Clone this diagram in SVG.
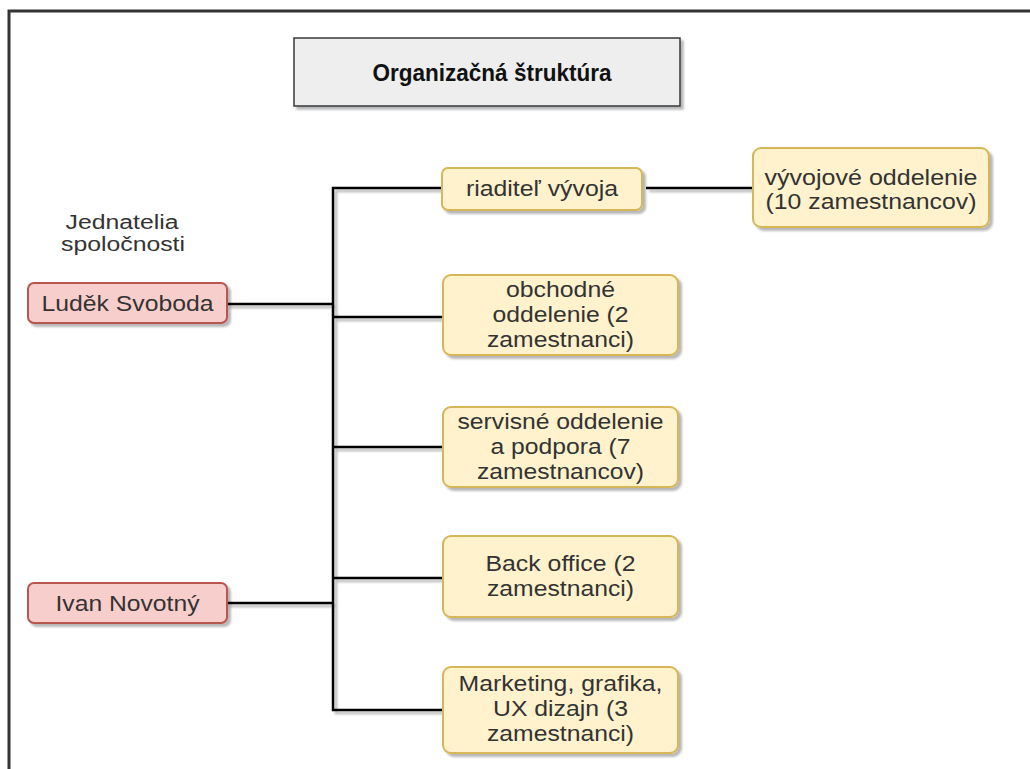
<svg xmlns="http://www.w3.org/2000/svg" width="1030" height="769" viewBox="0 0 1030 769">
<defs>
<filter id="sh" x="-10%" y="-10%" width="130%" height="140%">
<feDropShadow dx="3" dy="3" stdDeviation="1.2" flood-color="#000" flood-opacity="0.28"/>
</filter>
<style>
.frame{fill:none;stroke:#333;stroke-width:3}
.title{fill:#eeeeee;stroke:#36393d;stroke-width:1.5}
.y{fill:#fff2cc;stroke:#d6b656;stroke-width:2}
.r{fill:#f8cecc;stroke:#b85450;stroke-width:2}
.t{font-family:"Liberation Sans",Arial,sans-serif;font-size:22px;fill:#333;text-anchor:middle}
.s{font-size:20px}
.tb{font-family:"Liberation Sans",Arial,sans-serif;font-size:24px;font-weight:bold;fill:#111;text-anchor:middle}
.c{fill:none;stroke:#000;stroke-width:2.5}
</style>
</defs>
<rect width="1030" height="769" fill="#fff"/>
<path class="frame" d="M9,769 V11 H1030"/>
<g id="title">
<rect class="title" x="294" y="38" width="386" height="68" filter="url(#sh)"/>
<text class="tb" x="492" y="81" textLength="239" lengthAdjust="spacingAndGlyphs">Organizačná štruktúra</text>
</g>
<g id="connectors" filter="url(#sh)">
<path class="c" d="M442,188 H333 V710 H443"/>
<path class="c" d="M646,188 H753"/>
<path class="c" d="M227,304 H333"/>
<path class="c" d="M333,317 H443"/>
<path class="c" d="M333,447 H443"/>
<path class="c" d="M333,578 H443"/>
<path class="c" d="M227,603 H333"/>
</g>
<g id="label-jednatelia">
<text class="t s" x="122" y="229" textLength="113" lengthAdjust="spacingAndGlyphs">Jednatelia</text>
<text class="t s" x="123" y="251" textLength="124" lengthAdjust="spacingAndGlyphs">spoločnosti</text>
</g>
<g id="ludek">
<rect class="r" x="28" y="283" width="199" height="40" rx="6" filter="url(#sh)"/>
<text class="t" x="127.5" y="311" textLength="172" lengthAdjust="spacingAndGlyphs">Luděk Svoboda</text>
</g>
<g id="ivan">
<rect class="r" x="28" y="583" width="199" height="40" rx="6" filter="url(#sh)"/>
<text class="t" x="127.5" y="611" textLength="144" lengthAdjust="spacingAndGlyphs">Ivan Novotný</text>
</g>
<g id="riaditel">
<rect class="y" x="442" y="168" width="200" height="42" rx="6" filter="url(#sh)"/>
<text class="t" x="542" y="196" textLength="152" lengthAdjust="spacingAndGlyphs">riaditeľ vývoja</text>
</g>
<g id="vyvoj">
<rect class="y" x="753" y="148" width="236" height="79" rx="8" filter="url(#sh)"/>
<text class="t" x="871" y="185" textLength="213" lengthAdjust="spacingAndGlyphs">vývojové oddelenie</text>
<text class="t" x="871" y="209" textLength="211" lengthAdjust="spacingAndGlyphs">(10 zamestnancov)</text>
</g>
<g id="obchod">
<rect class="y" x="443" y="275" width="235" height="80" rx="8" filter="url(#sh)"/>
<text class="t" x="560.5" y="297" textLength="109" lengthAdjust="spacingAndGlyphs">obchodné</text>
<text class="t" x="560.5" y="322" textLength="136" lengthAdjust="spacingAndGlyphs">oddelenie (2</text>
<text class="t" x="560.5" y="347" textLength="147" lengthAdjust="spacingAndGlyphs">zamestnanci)</text>
</g>
<g id="servis">
<rect class="y" x="443" y="407" width="235" height="80" rx="8" filter="url(#sh)"/>
<text class="t" x="560.5" y="429" textLength="206" lengthAdjust="spacingAndGlyphs">servisné oddelenie</text>
<text class="t" x="560.5" y="454" textLength="140" lengthAdjust="spacingAndGlyphs">a podpora (7</text>
<text class="t" x="560.5" y="479" textLength="167" lengthAdjust="spacingAndGlyphs">zamestnancov)</text>
</g>
<g id="backoffice">
<rect class="y" x="443" y="536" width="235" height="81" rx="8" filter="url(#sh)"/>
<text class="t" x="560.5" y="571" textLength="150" lengthAdjust="spacingAndGlyphs">Back office (2</text>
<text class="t" x="560.5" y="596" textLength="147" lengthAdjust="spacingAndGlyphs">zamestnanci)</text>
</g>
<g id="marketing">
<rect class="y" x="443" y="667" width="235" height="86" rx="8" filter="url(#sh)"/>
<text class="t" x="560.5" y="691" textLength="204" lengthAdjust="spacingAndGlyphs">Marketing, grafika,</text>
<text class="t" x="560.5" y="716" textLength="135" lengthAdjust="spacingAndGlyphs">UX dizajn (3</text>
<text class="t" x="560.5" y="741" textLength="147" lengthAdjust="spacingAndGlyphs">zamestnanci)</text>
</g>
</svg>
